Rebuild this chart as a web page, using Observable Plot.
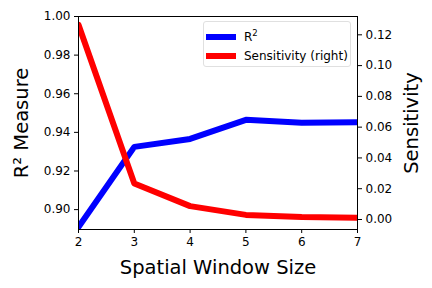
<!DOCTYPE html>
<html><head><meta charset="utf-8">
<style>
body{margin:0;background:#fff;font-family:"DejaVu Sans",sans-serif}
#wrap{position:relative;width:432px;height:288px}
#legend{position:absolute;left:203px;top:21px;width:146px;height:44px;border:1px solid #e0e0e0;border-radius:3px;background:rgba(255,255,255,0.8);font-size:12px;color:#000}
.row{position:absolute;left:0;height:14px;display:flex;align-items:center}
.sw{position:absolute;left:2px;width:30px;height:6px}
.lab{position:absolute;left:40px;white-space:nowrap;line-height:14px}
sup{font-size:8.5px;vertical-align:5px;line-height:0}
</style>
<script src="https://cdn.jsdelivr.net/npm/d3@7"></script>
<script src="https://cdn.jsdelivr.net/npm/@observablehq/plot@0.6"></script>
</head><body><div id="wrap"></div>
<script>
const windowSizes = [2, 3, 4, 5, 6, 7];
const r2Values = [0.891, 0.9325, 0.9366, 0.9465, 0.9450, 0.9452];
const sensitivityValues = [0.1265, 0.0234, 0.0087, 0.0030, 0.0016, 0.0011];
const xTicks = [2, 3, 4, 5, 6, 7];
const r2Ticks = [0.90, 0.92, 0.94, 0.96, 0.98, 1.00];
const sensTicks = [0.00, 0.02, 0.04, 0.06, 0.08, 0.10, 0.12];

const L0 = 0.8897, L1 = 1.0, S0 = -0.0065, S1 = 0.1319;
const toL = s => L0 + (s - S0) / (S1 - S0) * (L1 - L0);
const fromL = v => S0 + (v - L0) / (L1 - L0) * (S1 - S0);

const data = windowSizes.map((x, i) => ({x, r2: r2Values[i], s: toL(sensitivityValues[i])}));

const chart = Plot.plot({
  width: 432, height: 288,
  marginLeft: 78, marginRight: 75, marginTop: 16, marginBottom: 59,
  style: {fontFamily: "DejaVu Sans", fontSize: "12px", color: "black", background: "white", overflow: "visible"},
  x: {domain: [2, 7]},
  y: {domain: [L0, L1]},
  marks: [
    Plot.line(data, {x: "x", y: "r2", stroke: "blue", strokeWidth: 6, clip: true}),
    Plot.line(data, {x: "x", y: "s", stroke: "red", strokeWidth: 6, clip: true}),
    Plot.frame({stroke: "black", strokeWidth: 1}),
    Plot.axisX({ticks: xTicks, tickFormat: d => String(d), tickSize: 4, tickPadding: 4, label: null, fontSize: 12}),
    Plot.axisY({ticks: r2Ticks, tickFormat: d3.format(".2f"), tickSize: 4, tickPadding: 4, label: null, fontSize: 12}),
    Plot.axisY({anchor: "right", ticks: sensTicks.map(toL), tickFormat: d => { const v = fromL(d); return (Math.abs(v) < 1e-6 ? 0 : v).toFixed(2); }, tickSize: 4, tickPadding: 4, label: null, fontSize: 12}),
    Plot.text(["Spatial Window Size"], {frameAnchor: "bottom", textAnchor: "middle", lineAnchor: "middle", dy: 38, fontSize: 19.5, fill: "black"}),
    Plot.text(["R² Measure"], {frameAnchor: "left", textAnchor: "middle", lineAnchor: "middle", dx: -57, rotate: -90, fontSize: 19.5, fill: "black"}),
    Plot.text(["Sensitivity"], {frameAnchor: "right", textAnchor: "middle", lineAnchor: "middle", dx: 54, rotate: -90, fontSize: 19.5, fill: "black"})
  ]
});
const wrap = document.getElementById("wrap");
wrap.appendChild(chart);
const legend = document.createElement("div");
legend.id = "legend";
legend.innerHTML = `
<div class="row" style="top:8px;width:100%"><div class="sw" style="background:blue"></div><div class="lab">R<sup>2</sup></div></div>
<div class="row" style="top:27px;width:100%"><div class="sw" style="background:red"></div><div class="lab">Sensitivity (right)</div></div>`;
wrap.appendChild(legend);
</script>
</body></html>
